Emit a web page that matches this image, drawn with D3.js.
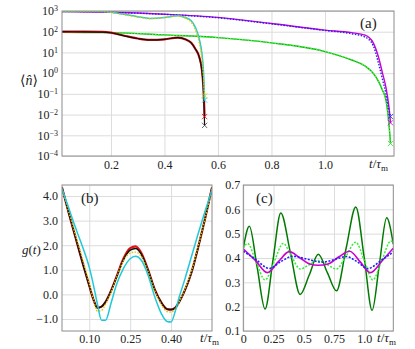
<!DOCTYPE html>
<html>
<head>
<meta charset="utf-8">
<script src="https://cdn.jsdelivr.net/npm/d3@7"></script>
<style>
body { margin: 0; background: #fff; }
svg text { font-family: "Liberation Serif", "Times New Roman", "DejaVu Serif", "Noto Serif", serif; fill: #222; }
.grid line { stroke: #dcdcdc; stroke-width: 1; }
</style>
</head>
<body>
<script>
// ---- panel (a) data: <n>(t), log scale ----
var tShort = [0.017, 0.1, 0.17, 0.2, 0.25, 0.3, 0.345, 0.4, 0.45, 0.48, 0.5, 0.515, 0.53, 0.54, 0.545, 0.548, 0.55];
var nBlack  = [100, 99, 96, 89, 63, 47, 40, 43, 52, 42, 29, 15, 6, 1.3, 0.25, 0.03, 0.003];
var nRed    = [100, 100, 98, 90, 64, 47, 40, 43, 52, 42, 29, 15, 6, 1.4, 0.25, 0.04, 0.008];
var nCyan   = [950, 960, 940, 880, 690, 530, 440, 490, 590, 470, 340, 170, 45, 9, 1.8, 0.3, 0.05];
var nYellow = [930, 950, 930, 860, 670, 510, 430, 480, 570, 440, 290, 130, 30, 5, 1, 0.25, 0.08];

var tLong = [0.017, 0.2, 0.4, 0.6, 0.8, 1.0, 1.1, 1.15, 1.18, 1.2, 1.215, 1.228, 1.238, 1.245];
var nMagenta = [950, 870, 700, 490, 250, 120, 90, 68, 30, 6, 1, 0.2, 0.03, 0.004];
var nBlue    = [950, 860, 690, 470, 240, 115, 80, 55, 22, 3, 0.5, 0.1, 0.02, 0.008];
var nGreen   = [95, 90, 70, 52, 29, 11, 4.3, 2.2, 1.0, 0.4, 0.15, 0.05, 0.005, 0.0004];

var aXTicks = [0.2, 0.4, 0.6, 0.8, 1.0];
var aYTicks = [1e-4, 1e-3, 1e-2, 1e-1, 1, 10, 100, 1000];

// ---- panel (b) data: g(t) ----
var tB = [0, 0.025, 0.05, 0.075, 0.1, 0.115, 0.13, 0.145, 0.16, 0.18, 0.2, 0.225, 0.25, 0.27, 0.29, 0.315, 0.34, 0.365, 0.385, 0.4, 0.415, 0.43, 0.45, 0.475, 0.5, 0.525, 0.55];
var gBlack  = [4.35, 3.3, 2.3, 1.3, 0.35, -0.2, -0.55, -0.5, -0.3, 0.15, 0.7, 1.4, 1.8, 1.87, 1.65, 1.0, 0.2, -0.35, -0.6, -0.62, -0.55, -0.3, 0.15, 0.9, 1.95, 3.1, 4.35];
var gRed    = [4.35, 3.3, 2.3, 1.3, 0.35, -0.2, -0.55, -0.5, -0.3, 0.15, 0.72, 1.45, 1.88, 1.95, 1.7, 1.02, 0.2, -0.35, -0.6, -0.62, -0.55, -0.3, 0.15, 0.9, 1.95, 3.1, 4.35];
var gYellow = [4.3, 3.35, 2.4, 1.45, 0.45, -0.2, -0.68, -0.65, -0.4, 0.1, 0.68, 1.35, 1.68, 1.72, 1.55, 0.95, 0.15, -0.42, -0.7, -0.72, -0.6, -0.3, 0.2, 0.95, 2.0, 3.1, 4.3];
var gCyan   = [4.3, 3.5, 2.7, 1.95, 1.1, 0.4, -0.4, -1.05, -1.05, -0.35, 0.4, 1.05, 1.45, 1.55, 1.4, 0.8, -0.1, -0.8, -1.1, -1.12, -0.7, -0.1, 0.6, 1.55, 2.5, 3.4, 4.25];

var bXTicks = [0.10, 0.25, 0.40];
var bYTicks = [-1, 0, 1, 2, 3, 4];

// ---- panel (c) data ----
var tDkGreen = [0, 0.05, 0.115, 0.18, 0.245, 0.31, 0.39, 0.47, 0.545, 0.62, 0.695, 0.77, 0.85, 0.93, 1.0, 1.065, 1.125, 1.185, 1.24];
var cDkGreen = [0.44, 0.53, 0.36, 0.19, 0.39, 0.585, 0.42, 0.25, 0.33, 0.415, 0.34, 0.265, 0.44, 0.61, 0.4, 0.185, 0.375, 0.565, 0.457];
var tLtGreen = [0, 0.035, 0.105, 0.18, 0.255, 0.33, 0.4, 0.47, 0.545, 0.62, 0.695, 0.77, 0.85, 0.93, 1.0, 1.07, 1.145, 1.22, 1.24];
var cLtGreen = [0.44, 0.46, 0.385, 0.31, 0.385, 0.46, 0.405, 0.355, 0.372, 0.39, 0.372, 0.355, 0.41, 0.465, 0.39, 0.31, 0.39, 0.47, 0.465];
var tMag = [0, 0.1, 0.198, 0.29, 0.38, 0.47, 0.55, 0.62, 0.7, 0.79, 0.88, 0.965, 1.05, 1.15, 1.24];
var cMag = [0.437, 0.39, 0.34, 0.385, 0.426, 0.4, 0.375, 0.37, 0.375, 0.405, 0.428, 0.385, 0.34, 0.39, 0.44];
var tBlue = [0, 0.1, 0.215, 0.31, 0.41, 0.53, 0.65, 0.75, 0.85, 0.94, 1.03, 1.14, 1.24];
var cBlue = [0.428, 0.395, 0.357, 0.385, 0.407, 0.395, 0.383, 0.393, 0.406, 0.385, 0.357, 0.39, 0.425];

var cXTicks = [0, 0.25, 0.5, 0.75, 1.0];
var cYTicks = [0.1, 0.2, 0.3, 0.4, 0.5, 0.6, 0.7];

var w = 415;
var h = 349;
var serif = "'Liberation Serif', 'Times New Roman', 'DejaVu Serif', 'Noto Serif', serif";

var svg = d3.select("body")
            .append("svg")
            .attr("width", w)
            .attr("height", h)
            .attr("font-family", serif);

//Scales
var xA = d3.scaleLinear().domain([0.017, 1.258]).range([62, 394]);
var yA = d3.scaleLog().domain([1e-4, 1e3]).range([156, 11]);
var xB = d3.scaleLinear().domain([0, 0.55]).range([62, 212]);
var yB = d3.scaleLinear().domain([-1.49, 4.45]).range([331, 185]);
var xC = d3.scaleLinear().domain([0, 1.24]).range([243.3, 393.3]);
var yC = d3.scaleLinear().domain([0.1, 0.7]).range([331, 185]);

function zip(ts, vs) {
  return ts.map(function(t, i) { return [t, vs[i]]; });
}

//grid + tick labels for a panel
function frame(x, y, xt, yt, xfmt, yfmt, xpad, ypad) {
  var x0 = x.range()[0], x1 = x.range()[1];
  var y0 = y.range()[1], y1 = y.range()[0];
  var gx = svg.append("g")
      .attr("class", "grid")
      .attr("transform", "translate(0," + y1 + ")")
      .call(d3.axisBottom(x).tickValues(xt).tickSize(-(y1 - y0)).tickPadding(xpad).tickFormat(xfmt));
  var gy = svg.append("g")
      .attr("class", "grid")
      .attr("transform", "translate(" + x0 + ",0)")
      .call(d3.axisLeft(y).tickValues(yt).tickSize(-(x1 - x0)).tickPadding(ypad).tickFormat(yfmt));
  gx.select(".domain").remove();
  gy.select(".domain").remove();
  gx.attr("font-family", serif).attr("font-size", 12);
  gy.attr("font-family", serif).attr("font-size", 12);
  return gy;
}

function border(x, y) {
  svg.append("rect")
     .attr("x", x.range()[0])
     .attr("y", y.range()[1])
     .attr("width", x.range()[1] - x.range()[0])
     .attr("height", y.range()[0] - y.range()[1])
     .attr("fill", "none")
     .attr("stroke", "#8c8c8c")
     .attr("stroke-width", 1);
}

function curve(x, y, pts, color, width, dash, clip) {
  var line = d3.line()
      .x(function(d) { return x(d[0]); })
      .y(function(d) { return y(d[1]); })
      .curve(d3.curveMonotoneX);
  svg.append("path")
     .datum(pts)
     .attr("d", line)
     .attr("fill", "none")
     .attr("stroke", color)
     .attr("stroke-width", width)
     .attr("stroke-dasharray", dash || null)
     .attr("clip-path", clip ? "url(#" + clip + ")" : null);
}

function clipFor(id, x, y) {
  svg.append("clipPath").attr("id", id)
     .append("rect")
     .attr("x", x.range()[0]).attr("y", y.range()[1])
     .attr("width", x.range()[1] - x.range()[0])
     .attr("height", y.range()[0] - y.range()[1]);
}

var minus = function(s) { return s.replace("-", "\u2212"); };

//---------------- panel (a)
var supers = {"-4": "\u22124", "-3": "\u22123", "-2": "\u22122", "-1": "\u22121", "0": "0", "1": "1", "2": "2", "3": "3"};
var gyA = frame(xA, yA, aXTicks, aYTicks, d3.format(".1f"), function(d) { return ""; }, 4, 4);
gyA.selectAll(".tick text").each(function(d) {
  var t = d3.select(this);
  var e = Math.round(Math.log10(d));
  t.text("10");
  t.append("tspan").attr("dy", "-0.5em").attr("font-size", 8).text(supers[String(e)]);
});
clipFor("clipA", xA, yA);

curve(xA, yA, zip(tLong, nGreen), "#12b012", 1.4, null, "clipA");
curve(xA, yA, zip(tLong, nGreen), "#3cff3c", 1.2, "1.5,1.5", "clipA");
curve(xA, yA, zip(tLong, nMagenta), "#cc00cc", 1.4, null, "clipA");
curve(xA, yA, zip(tLong, nBlue), "#2020ff", 1.4, "1.5,1.5", "clipA");
curve(xA, yA, zip(tShort, nRed), "#e01010", 2.2, null, "clipA");
curve(xA, yA, zip(tShort, nBlack), "#111", 1.2, null, "clipA");
curve(xA, yA, zip(tShort, nCyan), "#20c8d8", 1.5, null, "clipA");
curve(xA, yA, zip(tShort, nYellow), "#d8c800", 1.4, "1.5,1.5", "clipA");

//end markers
var ends = [
  [tShort, nCyan, "#20c8d8"], [tShort, nYellow, "#d8c800"], [tShort, nRed, "#e01010"], [tShort, nBlack, "#444"],
  [tLong, nMagenta, "#cc00cc"], [tLong, nBlue, "#2020ff"], [tLong, nGreen, "#33dd33"]
];
ends.forEach(function(e) {
  var i = e[0].length - 1;
  svg.append("path")
     .attr("d", d3.symbol().type(d3.symbolTimes).size(20)())
     .attr("transform", "translate(" + xA(e[0][i]) + "," + yA(e[1][i]) + ")")
     .attr("fill", "none")
     .attr("stroke", e[2])
     .attr("stroke-width", 0.8);
});
border(xA, yA);

//---------------- panel (b)
frame(xB, yB, bXTicks, bYTicks, d3.format(".2f"), function(d) { return minus(d3.format(".1f")(d)); }, 3, 4);
clipFor("clipB", xB, yB);
curve(xB, yB, zip(tB, gRed), "#e01010", 2.2, null, "clipB");
curve(xB, yB, zip(tB, gBlack), "#111", 1.5, null, "clipB");
curve(xB, yB, zip(tB, gYellow), "#d8c800", 1.4, "1.5,1.5", "clipB");
curve(xB, yB, zip(tB, gCyan), "#20c8d8", 1.5, null, "clipB");
border(xB, yB);

//---------------- panel (c)
frame(xC, yC, cXTicks, cYTicks, function(d) { return d === 0 ? "0" : (d === 1 ? "1.0" : String(d)); }, d3.format(".1f"), 3, 3);
clipFor("clipC", xC, yC);
curve(xC, yC, zip(tDkGreen, cDkGreen), "#007a00", 1.5, null, "clipC");
curve(xC, yC, zip(tLtGreen, cLtGreen), "#33ee33", 1.5, "2,1.5", "clipC");
curve(xC, yC, zip(tMag, cMag), "#cc00cc", 1.6, null, "clipC");
curve(xC, yC, zip(tBlue, cBlue), "#2020ff", 1.6, "2,1.5", "clipC");
border(xC, yC);

//---------------- labels
function tLabel(x, y) {
  var t = svg.append("text").attr("x", x).attr("y", y).attr("font-size", 13);
  t.append("tspan").attr("font-style", "italic").text("t");
  t.append("tspan").text("/");
  t.append("tspan").attr("font-style", "italic").text("\u03c4");
  t.append("tspan").attr("font-size", 9).attr("dy", 3).text("m");
}
tLabel(369, 168);
tLabel(200, 342);
tLabel(377, 342);

var nl = svg.append("text").attr("x", 20).attr("y", 85).attr("font-size", 14);
nl.append("tspan").text("\u27e8");
nl.append("tspan").attr("font-style", "italic").text("n\u0302");
nl.append("tspan").text("\u27e9");

var gl = svg.append("text").attr("x", 22).attr("y", 254).attr("font-size", 13);
gl.append("tspan").attr("font-style", "italic").text("g");
gl.append("tspan").text("(");
gl.append("tspan").attr("font-style", "italic").text("t");
gl.append("tspan").text(")");

svg.append("text").attr("x", 360).attr("y", 28).attr("font-size", 15).text("(a)");
svg.append("text").attr("x", 81).attr("y", 203).attr("font-size", 15).text("(b)");
svg.append("text").attr("x", 256).attr("y", 203).attr("font-size", 15).text("(c)");
</script>
</body>
</html>
